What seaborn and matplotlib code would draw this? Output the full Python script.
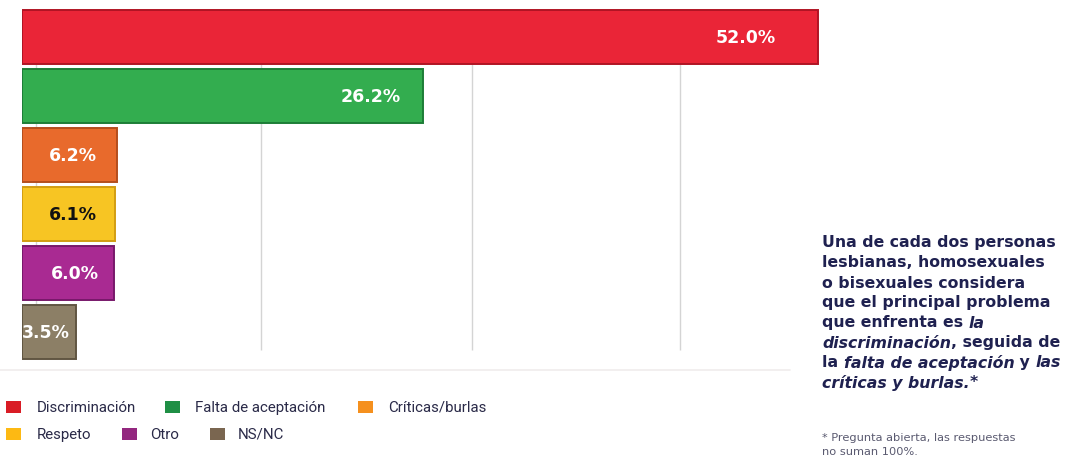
import matplotlib
matplotlib.use("Agg")
import matplotlib.pyplot as plt
from matplotlib.patches import Rectangle
import seaborn as sns
import pandas as pd

# ---- data ----
categories = ["Discriminación", "Falta de aceptación", "Críticas/burlas",
              "Respeto", "Otro", "NS/NC"]
values = [52.0, 26.2, 6.2, 6.1, 6.0, 3.5]
value_labels = ["52.0%", "26.2%", "6.2%", "6.1%", "6.0%", "3.5%"]
bar_colors = ["#ea2537", "#33ad4f", "#e86a2c", "#f7c523", "#a92a92", "#8c7f66"]
edge_colors = ["#b01424", "#1d7d37", "#b44e1d", "#d29d12", "#78186a", "#605542"]
legend_colors = ["#d91c25", "#1f8f45", "#f5901e", "#fdb913", "#93277f", "#7a6650"]
label_colors = ["white", "white", "white", "#111111", "white", "white"]
grid_values = [0.9, 15.6, 29.4, 43.0]

summary_lines = [
    [("Una de cada dos personas", "normal")],
    [("lesbianas, homosexuales", "normal")],
    [("o bisexuales considera", "normal")],
    [("que el principal problema", "normal")],
    [("que enfrenta es ", "normal"), ("la", "italic")],
    [("discriminación", "italic"), (", seguida de", "normal")],
    [("la ", "normal"), ("falta de aceptación", "italic"), (" y ", "normal"), ("las", "italic")],
    [("críticas y burlas.", "italic"), ("*", "normal")],
]
footnote = ["* Pregunta abierta, las respuestas", "no suman 100%."]

df = pd.DataFrame({"categoria": categories, "valor": values})

sns.set_theme(style="white")
plt.rcParams["font.family"] = ["DejaVu Sans"]

W, H = 1081, 460
fig = plt.figure(figsize=(W / 100, H / 100), dpi=100)
fig.patch.set_facecolor("white")

# about 15.3 px per percentage point
ax = fig.add_axes([22 / W, (H - 362.5) / H, 55 * 15.3 / W, 354 / H])
ax.vlines(grid_values, 0.45, 5.3, colors="#d4d4d4", linewidth=1.0, zorder=0)

sns.barplot(data=df, x="valor", y="categoria", hue="categoria",
            palette=bar_colors, orient="h", dodge=False, width=0.9,
            saturation=1, legend=False, ax=ax, zorder=2)
for patch, ec in zip(ax.patches, edge_colors):
    patch.set_edgecolor(ec)
    patch.set_linewidth(1.4)

ax.set_xlim(0, 55)
ax.set_ylim(5.5, -0.5)
ax.set_xlabel("")
ax.set_ylabel("")
ax.set_xticks([])
ax.set_yticks([])
for s in ax.spines.values():
    s.set_visible(False)
ax.patch.set_alpha(0)

offsets = [-42, -22, -20, -18, -15, -6]
for i, (v, lab, c, off) in enumerate(zip(values, value_labels, label_colors, offsets)):
    ax.annotate(lab, xy=(v, i), xytext=(off, 0), textcoords="offset pixels",
                ha="right", va="center", color=c, fontsize=12.5,
                fontweight="bold", family="DejaVu Sans", zorder=5)

# faint baseline
fig.add_artist(plt.Line2D([0, 790 / W], [(H - 371) / H] * 2, color="#f0ecec",
                          linewidth=1.2, transform=fig.transFigure))

# ---- legend ----
sq_x = [6, 165, 358, 6, 122, 210]
tx_x = [37, 195, 388, 37, 150, 238]
row_y = [408, 408, 408, 435, 435, 435]
for name, col, sx, tx, ry in zip(categories, legend_colors, sq_x, tx_x, row_y):
    fig.add_artist(Rectangle((sx / W, (H - ry - 6) / H), 15 / W, 12 / H,
                             transform=fig.transFigure, facecolor=col,
                             edgecolor="none"))
    fig.text(tx / W, (H - ry) / H, name, ha="left", va="center",
             fontsize=10.8, color="#2a2a48", family="Roboto")

# ---- summary text ----
fig.canvas.draw()
renderer = fig.canvas.get_renderer()
x0 = 822
for k, segs in enumerate(summary_lines):
    y = 243 + 20 * k
    x = x0
    for txt, style in segs:
        t = fig.text(x / W, (H - y) / H, txt, ha="left", va="center",
                     fontsize=11.3, fontweight="bold", style=style,
                     color="#1f2150", family="DejaVu Sans")
        bb = t.get_window_extent(renderer=renderer)
        x += bb.width

for k, line in enumerate(footnote):
    fig.text(x0 / W, (H - 438 - 14 * k) / H, line, ha="left", va="center",
             fontsize=8.2, color="#5a5a70", family="DejaVu Sans")

fig.savefig("out.png", dpi=100, facecolor="white")
